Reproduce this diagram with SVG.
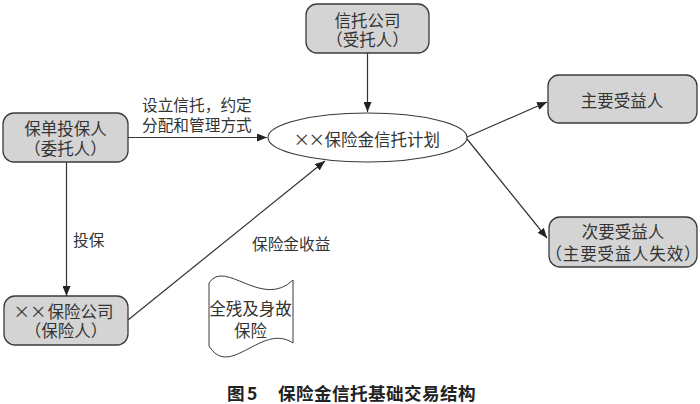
<svg xmlns="http://www.w3.org/2000/svg" width="700" height="404" viewBox="0 0 700 404">
<defs>
<style>
.node{fill:#d4d4d4;stroke:#3a3a3a;stroke-width:1.3}
.ell{fill:#ffffff;stroke:#3a3a3a;stroke-width:1.1}
.doc{fill:#ffffff;stroke:#3a3a3a;stroke-width:1}
.t{font-family:"Noto Sans CJK SC","Liberation Sans",sans-serif;font-size:16.5px;fill:#333333;dominant-baseline:central}
.lbl{font-family:"Noto Sans CJK SC","Liberation Sans",sans-serif;font-size:15.7px;fill:#333333;dominant-baseline:central}
.cap{font-family:"Noto Sans CJK SC","Liberation Sans",sans-serif;font-size:17.6px;font-weight:bold;fill:#222222;dominant-baseline:central}
.c{stroke:#333333;stroke-width:1.2;fill:none;marker-end:url(#ah)}
</style>
<marker id="ah" viewBox="0 0 10 8" refX="10" refY="4" markerWidth="10" markerHeight="8" markerUnits="userSpaceOnUse" orient="auto">
<path d="M0,0 L10,4 L0,8 Z" fill="#222222"/>
</marker>
</defs>
<rect width="700" height="404" fill="#ffffff"/>
<g id="connectors">
<line class="c" x1="367.5" y1="53" x2="367.5" y2="112"/>
<line class="c" x1="128" y1="137.5" x2="267" y2="137.5"/>
<line class="c" x1="467" y1="137" x2="547" y2="102"/>
<line class="c" x1="467" y1="139" x2="547" y2="238"/>
<line class="c" x1="66.5" y1="162" x2="66.5" y2="296"/>
<line class="c" x1="128" y1="320" x2="325" y2="161"/>
</g>
<g id="labels">
<text class="lbl" x="142" y="104">设立信托，约定</text>
<text class="lbl" x="142" y="124">分配和管理方式</text>
<text class="lbl" x="73" y="239">投保</text>
<text class="lbl" x="252" y="243">保险金收益</text>
</g>
<g id="trust-company">
<rect class="node" x="306" y="4" width="123" height="49" rx="11"/>
<text class="t" x="367.5" y="20" text-anchor="middle">信托公司</text>
<text class="t" x="367.5" y="39" text-anchor="middle">（受托人）</text>
</g>
<g id="policyholder">
<rect class="node" x="3" y="113" width="125" height="49" rx="11"/>
<text class="t" x="65.5" y="128" text-anchor="middle">保单投保人</text>
<text class="t" x="65.5" y="148" text-anchor="middle">（委托人）</text>
</g>
<g id="trust-plan">
<ellipse class="ell" cx="367.5" cy="137.5" rx="99.5" ry="24.5"/>
<text class="t" y="138.7"><tspan x="301.7" text-anchor="middle">×</tspan><tspan x="316.7" text-anchor="middle">×</tspan><tspan x="324.5" text-anchor="start">保险金信托计划</tspan></text>
</g>
<g id="primary-beneficiary">
<rect class="node" x="548" y="75" width="149" height="48" rx="11"/>
<text class="t" x="622" y="100" text-anchor="middle">主要受益人</text>
</g>
<g id="secondary-beneficiary">
<rect class="node" x="549" y="217" width="148" height="50" rx="11"/>
<text class="t" x="623" y="231" text-anchor="middle">次要受益人</text>
<text class="t" x="623.4" y="253" text-anchor="middle" letter-spacing="0.8">（主要受益人失效）</text>
</g>
<g id="insurer">
<rect class="node" x="4" y="296" width="124" height="49" rx="11"/>
<text class="t" y="311"><tspan x="21.7" text-anchor="middle">×</tspan><tspan x="38.3" text-anchor="middle">×</tspan><tspan x="47.5" text-anchor="start">保险公司</tspan></text>
<text class="t" x="66" y="329.5" text-anchor="middle">（保险人）</text>
</g>
<g id="policy-doc">
<path class="doc" d="M209,283 C225,258 262,310 293,280 L293,343 C262,322 230,380 209,346 Z"/>
<text class="t" x="250.5" y="308" text-anchor="middle" font-size="15.8">全残及身故</text>
<text class="t" x="250.5" y="329.5" text-anchor="middle" font-size="15.8">保险</text>
</g>
<g id="caption">
<text class="cap" y="391.5"><tspan x="227">图</tspan><tspan x="247">5</tspan><tspan x="278" letter-spacing="0.4">保险金信托基础交易结构</tspan></text>
</g>
</svg>
